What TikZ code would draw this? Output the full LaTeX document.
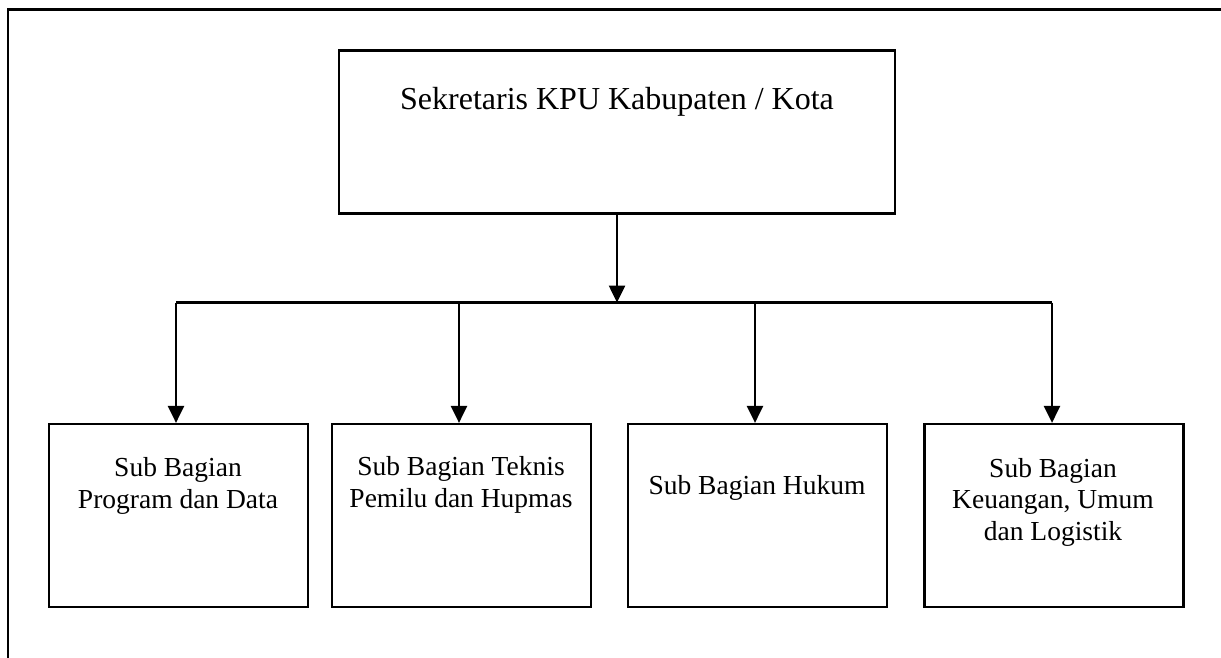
\documentclass[tikz,border=0pt]{standalone}
\usepackage{fontspec}
\setmainfont{Liberation Serif}
\usetikzlibrary{arrows.meta}
\begin{document}
\begin{tikzpicture}[x=1pt,y=-1pt,
  box/.style={draw, line width=2.2pt, inner sep=0pt},
  lbl/.style={align=center, font=\fontsize{27.5}{31.5}\selectfont, inner sep=0pt},
  conn/.style={line width=2.2pt},
  arr/.style={line width=2.6pt, -{Triangle[width=16pt,length=17pt]}}]
\useasboundingbox (0,0) rectangle (1221,658);
\draw[line width=2.8pt] (8,658) -- (8,9.5) -- (1221,9.5);
% top box
\node[box, minimum width=556pt, minimum height=163pt] (top) at (617,132) {};
\node[inner sep=0pt, font=\fontsize{32}{38}\selectfont] (toptext) at (617,102) {Sekretaris KPU Kabupaten / Kota};
% bottom boxes
\node[box, minimum width=259pt, minimum height=183pt] (b1) at (178.5,515.5) {};
\node[box, minimum width=259pt, minimum height=183pt] (b2) at (461.5,515.5) {};
\node[box, minimum width=259pt, minimum height=183pt] (b3) at (757.5,515.5) {};
\node[box, minimum width=259pt, minimum height=183pt] (b4) at (1054,515.5) {};
\node[lbl] (t1) at (178,486) {Sub Bagian\\Program dan Data};
\node[lbl] (t2) at (461,485) {Sub Bagian Teknis\\Pemilu dan Hupmas};
\node[lbl] (t3) at (757,488) {Sub Bagian Hukum};
\node[lbl] (t4) at (1053,502) {Sub Bagian\\Keuangan, Umum\\dan Logistik};
% connectors
\coordinate (bus) at (617,302.5);
\coordinate (busL) at (176,302.5);
\coordinate (busR) at (1052,302.5);
\draw[arr] (top.south) -- (bus);
\draw[conn] (busL) -- (busR);
\draw[arr] (busL) -- (b1.north -| busL);
\draw[arr] (459,302.5) -- (b2.north -| 459,0);
\draw[arr] (755,302.5) -- (b3.north -| 755,0);
\draw[arr] (busR) -- (b4.north -| busR);
\end{tikzpicture}
\end{document}
